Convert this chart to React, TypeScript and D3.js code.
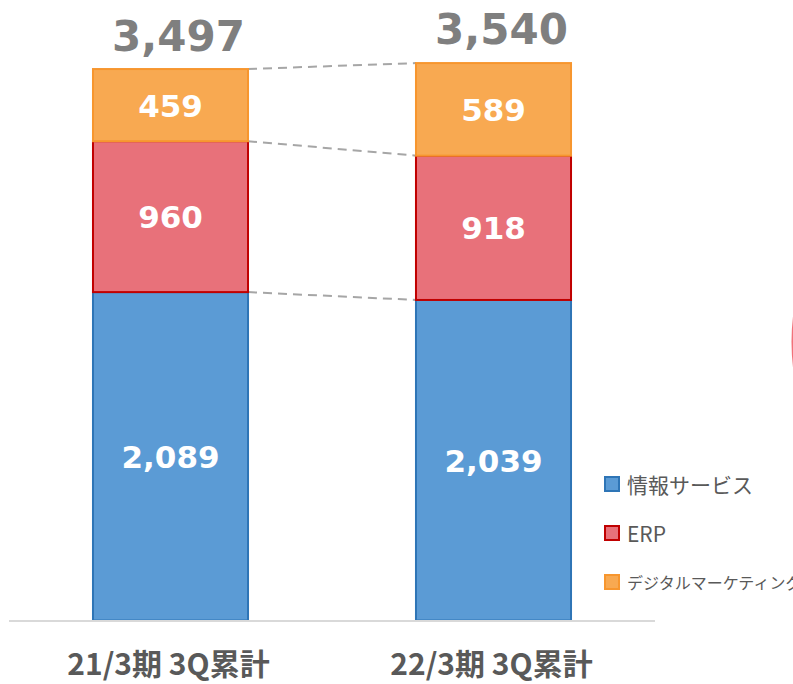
import React from "react";
import * as d3 from "d3";

const categories = ["21/3期 3Q累計", "22/3期 3Q累計"];
const seriesNames = ["情報サービス", "ERP", "デジタルマーケティング"];
const infoService = [2089, 2039];
const erp = [960, 918];
const digitalMarketing = [459, 589];
const totals = [3497, 3540];

const fills = ["#5B9BD5", "#E8717A", "#F8A951"];
const strokes = ["#2E75B6", "#C00000", "#F7962E"];

export default function App() {
  const W = 793;
  const H = 684;
  const x = d3.scaleBand<string>().domain(categories).range([9, 655]).paddingInner(0.52).paddingOuter(0.26);
  const y = d3.scaleLinear().domain([0, 4000]).range([620.5, -8.3]);
  const series = [infoService, erp, digitalMarketing];
  const stack = d3.stack<number>().keys(["0", "1", "2"]).value((i, k) => series[+k][i]);
  const stacked = stack(categories.map((_, i) => i));
  const fmt = d3.format(",");
  const bw = x.bandwidth();

  return (
    <svg width={W} height={H} style={{ position: "absolute", left: 0, top: 0, background: "#fff" }}>
      {[0, 1, 2].map((k) => {
        const x1 = x(categories[0])! + bw;
        const x2 = x(categories[1])!;
        return (
          <line key={"c" + k} x1={x1} x2={x2} y1={y(stacked[k][0][1])} y2={y(stacked[k][1][1])}
            stroke="#A6A6A6" strokeWidth={2} strokeDasharray="9,6" />
        );
      })}
      {stacked.map((s, k) =>
        s.map((d, i) => {
          const x0 = x(categories[i])!;
          const y0 = y(d[1]);
          const h = y(d[0]) - y(d[1]);
          return (
            <g key={k + "-" + i}>
              <rect x={x0} y={y0} width={bw} height={h} fill={fills[k]} stroke={strokes[k]} strokeWidth={2} />
              <text x={x0 + bw / 2} y={y0 + h / 2 + 11.5} textAnchor="middle" fill="#fff"
                fontFamily="DejaVu Sans" fontWeight="bold" fontSize={31}>
                {fmt(series[k][i])}
              </text>
            </g>
          );
        })
      )}
      <line x1={9} x2={655} y1={621} y2={621} stroke="#D9D9D9" strokeWidth={2} />
      {totals.map((t, i) => (
        <text key={"t" + i} x={x(categories[i])! + bw / 2 + 8} y={y(t) - 20} textAnchor="middle" fill="#7F7F7F"
          fontFamily="DejaVu Sans" fontWeight="bold" fontSize={42}>
          {fmt(t)}
        </text>
      ))}
      {categories.map((c, i) => (
        <text key={"x" + i} x={x(c)! + bw / 2 - 2} y={675} textAnchor="middle" fill="#595959"
          fontFamily="Noto Sans CJK JP" fontWeight="bold" fontSize={30}>
          {c}
        </text>
      ))}
      {seriesNames.map((n, k) => {
        const cy = [484, 533, 582][k];
        const fs = [21, 21, 16][k];
        return (
          <g key={"l" + k}>
            <rect x={605} y={cy - 7} width={14} height={14} fill={fills[k]} stroke={strokes[k]} strokeWidth={2} />
            <text x={627} y={cy} dominantBaseline="central" fill="#595959" fontFamily="Noto Sans CJK JP" fontSize={fs}>
              {n}
            </text>
          </g>
        );
      })}
      <path d="M 797 300 Q 789 342 797 384" fill="none" stroke="#F2727A" strokeWidth={3} />
    </svg>
  );
}
